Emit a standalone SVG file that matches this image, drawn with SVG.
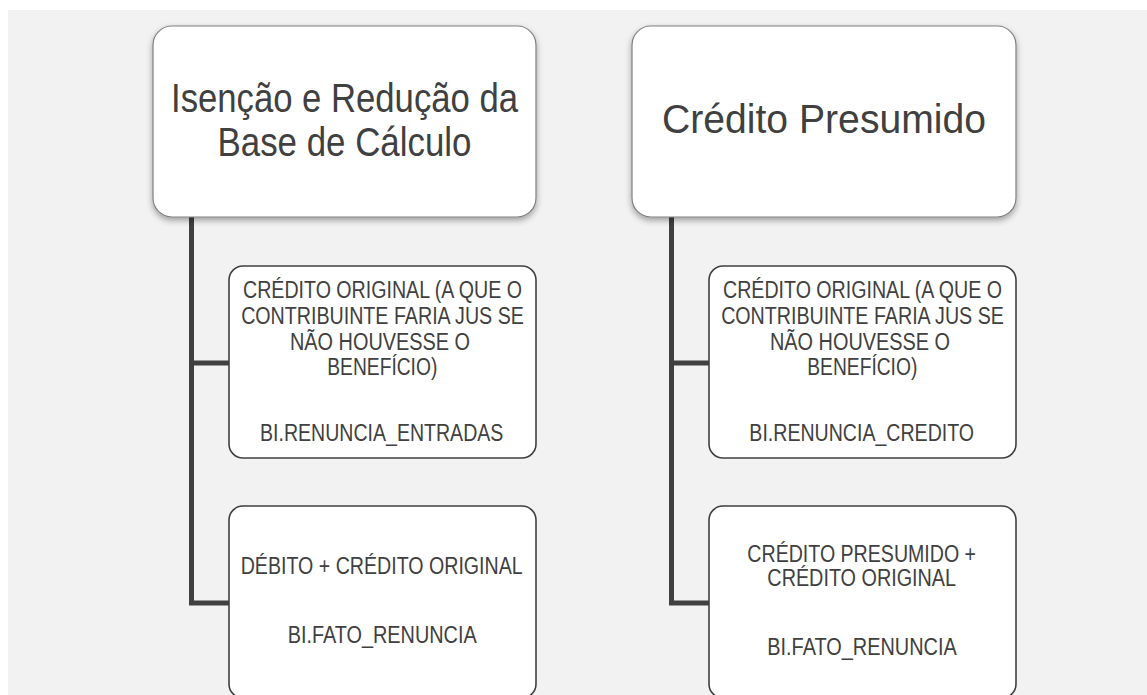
<svg xmlns="http://www.w3.org/2000/svg" width="1147" height="695" viewBox="0 0 1147 695">
<defs>
<filter id="sh" x="-10%" y="-10%" width="120%" height="125%">
<feDropShadow dx="0" dy="3" stdDeviation="3" flood-color="#000" flood-opacity="0.35"/>
</filter>
<style>
.top{fill:#ffffff;stroke:#7f7f7f;stroke-width:1.2;filter:url(#sh)}
.child{fill:#ffffff;stroke:#404040;stroke-width:1.6}
.h{font-family:"Liberation Sans",Arial,sans-serif;fill:#404040;text-anchor:middle;font-size:40.5px}
.t{font-family:"Liberation Sans",Arial,sans-serif;fill:#404040;text-anchor:middle;font-size:23px}
.conn{fill:none;stroke:#404040;stroke-width:5}
</style>
</defs>
<rect x="0" y="0" width="1147" height="695" fill="#ffffff"/>
<rect x="8" y="10" width="1139" height="685" fill="#f2f2f2"/>
<g id="connectors">
<path class="conn" d="M191.5 217 V603 H229 M191.5 363 H229"/>
<path class="conn" d="M671.5 217 V603 H709 M671.5 363 H709"/>
</g>
<g id="node-isencao">
<rect class="top" x="153" y="26" width="383" height="191" rx="19"/>
<text class="h" x="344.5" y="112.3" textLength="347" lengthAdjust="spacingAndGlyphs">Isenção e Redução da</text>
<text class="h" x="344.5" y="156" textLength="254" lengthAdjust="spacingAndGlyphs">Base de Cálculo</text>
</g>
<g id="node-credito-presumido">
<rect class="top" x="632" y="26" width="384" height="191" rx="19"/>
<text class="h" x="824" y="132.7" textLength="324" lengthAdjust="spacingAndGlyphs" style="font-size:41px">Crédito Presumido</text>
</g>
<g id="node-l1">
<rect class="child" x="229" y="266" width="307" height="192" rx="14"/>
<text class="t" x="382.5" y="298.3" textLength="279" lengthAdjust="spacingAndGlyphs">CRÉDITO ORIGINAL (A QUE O</text>
<text class="t" x="382.5" y="324" textLength="282.7" lengthAdjust="spacingAndGlyphs">CONTRIBUINTE FARIA JUS SE</text>
<text class="t" x="380" y="350" textLength="180" lengthAdjust="spacingAndGlyphs">NÃO HOUVESSE O</text>
<text class="t" x="382.3" y="375" textLength="110" lengthAdjust="spacingAndGlyphs">BENEFÍCIO)</text>
<text class="t" x="381.7" y="440.7" textLength="243.3" lengthAdjust="spacingAndGlyphs">BI.RENUNCIA_ENTRADAS</text>
</g>
<g id="node-l2">
<rect class="child" x="229" y="506" width="307" height="192" rx="14"/>
<text class="t" x="381.7" y="574.3" textLength="282" lengthAdjust="spacingAndGlyphs">DÉBITO + CRÉDITO ORIGINAL</text>
<text class="t" x="382.2" y="643.3" textLength="189" lengthAdjust="spacingAndGlyphs">BI.FATO_RENUNCIA</text>
</g>
<g id="node-r1">
<rect class="child" x="709" y="266" width="307" height="192" rx="14"/>
<text class="t" x="862.5" y="298.3" textLength="279" lengthAdjust="spacingAndGlyphs">CRÉDITO ORIGINAL (A QUE O</text>
<text class="t" x="862.5" y="324" textLength="282.7" lengthAdjust="spacingAndGlyphs">CONTRIBUINTE FARIA JUS SE</text>
<text class="t" x="860" y="350" textLength="180" lengthAdjust="spacingAndGlyphs">NÃO HOUVESSE O</text>
<text class="t" x="862.3" y="375" textLength="110" lengthAdjust="spacingAndGlyphs">BENEFÍCIO)</text>
<text class="t" x="861.7" y="440.7" textLength="224.7" lengthAdjust="spacingAndGlyphs">BI.RENUNCIA_CREDITO</text>
</g>
<g id="node-r2">
<rect class="child" x="709" y="506" width="307" height="192" rx="14"/>
<text class="t" x="861.7" y="561.7" textLength="228.7" lengthAdjust="spacingAndGlyphs">CRÉDITO PRESUMIDO +</text>
<text class="t" x="861.7" y="586" textLength="188.7" lengthAdjust="spacingAndGlyphs">CRÉDITO ORIGINAL</text>
<text class="t" x="862" y="655" textLength="189.4" lengthAdjust="spacingAndGlyphs">BI.FATO_RENUNCIA</text>
</g>
</svg>
